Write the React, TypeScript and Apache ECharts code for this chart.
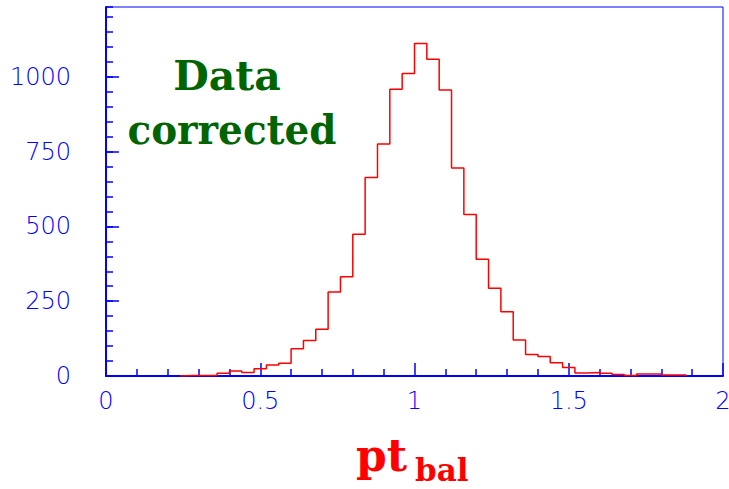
import React, { useEffect, useRef } from "react";
import * as echarts from "echarts";

// Histogram of pt balance: 50 bins of width 0.04 from 0 to 2
const BIN_WIDTH = 0.04;
const BIN_START = 0;
const counts = [
  0, 0, 0, 0, 0, 0, 2, 2, 2, 9,
  17, 12, 24, 37, 43, 91, 119, 156, 281, 332,
  474, 663, 775, 958, 1011, 1111, 1058, 956, 695, 540,
  390, 293, 215, 120, 72, 65, 44, 28, 10, 12,
  9, 5, 2, 7, 7, 3, 3, 0, 0, 0,
];

const xRange = [0, 2];
const yRange = [0, 1233];
const xMajorStep = 0.5;
const yMajorStep = 250;
const yMinorStep = 50;

const annotationLines = ["Data", "corrected"];
const xTitleMain = "pt";
const xTitleSub = "bal";

const BLUE = "#0000ff";
const LABEL_BLUE = "#0000ff";

function buildStepData(): number[][] {
  const first = counts.findIndex((c) => c > 0);
  let last = counts.length - 1;
  while (last >= 0 && counts[last] === 0) last--;
  const pts: number[][] = [];
  const edge = (i: number) => +(BIN_START + i * BIN_WIDTH).toFixed(4);
  pts.push([edge(first), 0]);
  for (let i = first; i <= last; i++) pts.push([edge(i), counts[i]]);
  pts.push([edge(last + 1), counts[last]]);
  pts.push([edge(last + 1), 0]);
  return pts;
}

export default function App() {
  const ref = useRef<HTMLDivElement>(null);

  useEffect(() => {
    if (!ref.current) return;
    const chart = echarts.init(ref.current, undefined, { renderer: "svg" });
    const labelFont = {
      fontFamily: "DejaVu Sans",
      fontWeight: 200 as any,
      fontSize: 24,
      color: LABEL_BLUE,
    };
    chart.setOption({
      animation: false,
      grid: {
        left: 106,
        right: 6,
        top: 7,
        bottom: 113,
        outerBoundsMode: "none",
        containLabel: false,
        show: true,
        borderColor: BLUE,
        borderWidth: 1,
        backgroundColor: "transparent",
      },
      xAxis: {
        type: "value",
        min: xRange[0],
        max: xRange[1],
        interval: xMajorStep,
        axisLine: { lineStyle: { color: BLUE, width: 2 } },
        axisTick: { inside: true, length: 13, lineStyle: { color: BLUE, width: 1.5 } },
        minorTick: { show: true, splitNumber: 5, length: 7, lineStyle: { color: BLUE, width: 1.5 } },
        splitLine: { show: false },
        axisLabel: { ...labelFont, margin: 13, formatter: (v: number) => String(v) },
      },
      yAxis: [
        {
          type: "value",
          min: yRange[0],
          max: yRange[1],
          interval: yMajorStep,
          axisLine: { show: true, lineStyle: { color: BLUE, width: 2 } },
          axisTick: { show: true, inside: true, length: 13, lineStyle: { color: BLUE, width: 1.5 } },
          splitLine: { show: false },
          axisLabel: {
            ...labelFont,
            margin: 35,
            showMaxLabel: false,
            formatter: (v: number) => String(v),
          },
        },
        {
          type: "value",
          position: "left",
          offset: 0,
          min: yRange[0],
          max: yRange[1],
          interval: yMinorStep,
          axisLine: { show: false },
          axisTick: { show: true, inside: true, length: 7, lineStyle: { color: BLUE, width: 1.5 } },
          splitLine: { show: false },
          axisLabel: { show: false },
        },
      ],
      series: [
        {
          type: "line",
          step: "end",
          data: buildStepData(),
          showSymbol: false,
          symbol: "none",
          lineStyle: { color: "#ff0000", width: 1.5 },
          z: 3,
        },
      ],
      graphic: [
        {
          type: "text",
          x: 227,
          y: 76,
          style: {
            text: annotationLines[0],
            fill: "#006400",
            font: "bold 41px 'DejaVu Serif'",
            textAlign: "center",
            textVerticalAlign: "middle",
          },
        },
        {
          type: "text",
          x: 232,
          y: 129,
          scaleX: 0.95,
          originX: 0,
          style: {
            text: annotationLines[1],
            fill: "#006400",
            font: "bold 41px 'DejaVu Serif'",
            textAlign: "center",
            textVerticalAlign: "middle",
          },
        },
        {
          type: "text",
          x: 356,
          y: 455,
          style: {
            text: xTitleMain,
            fill: "#ff0000",
            font: "bold 44px 'DejaVu Serif'",
            textAlign: "left",
            textVerticalAlign: "middle",
          },
        },
        {
          type: "text",
          x: 415,
          y: 470,
          style: {
            text: xTitleSub,
            fill: "#ff0000",
            font: "bold 31px 'DejaVu Serif'",
            textAlign: "left",
            textVerticalAlign: "middle",
          },
        },
      ],
    });
    return () => chart.dispose();
  }, []);

  return (
    <div
      ref={ref}
      style={{ position: "absolute", left: 0, top: 0, width: 729, height: 489 }}
    />
  );
}
